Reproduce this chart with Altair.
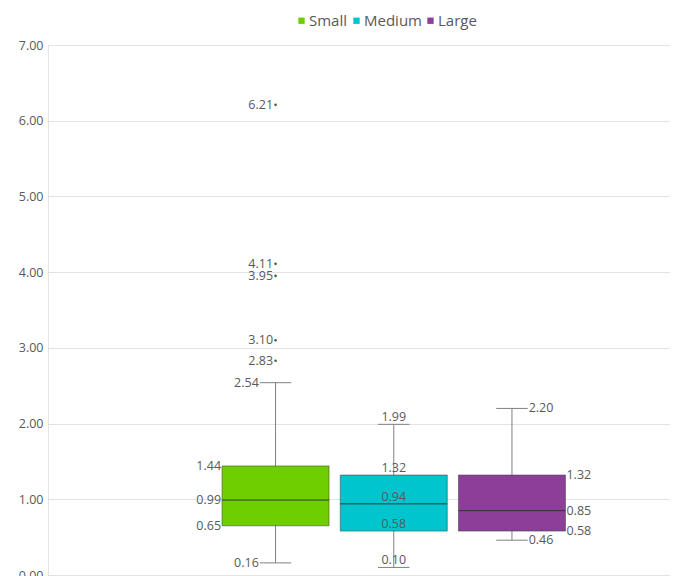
import altair as alt
import pandas as pd

# ---- data ----
series = ["Small", "Medium", "Large"]
colors = ["#6dcf00", "#00c5cf", "#8b3f98"]
whisker_low = [0.16, 0.10, 0.46]
q1 = [0.65, 0.58, 0.58]
median = [0.99, 0.94, 0.85]
q3 = [1.44, 1.32, 1.32]
whisker_high = [2.54, 1.99, 2.20]
outliers_small = [2.83, 3.10, 3.95, 4.11, 6.21]
y_ticks = [0, 1, 2, 3, 4, 5, 6, 7]

FONT = "Open Sans"
TXT = "#595959"
FS = 12.5
BOX_HALF = 0.4526
CAP_HALF = 0.133
positions = [1, 2, 3]

box_df = pd.DataFrame({
    "series": series, "pos": positions, "lo": whisker_low, "q1": q1,
    "med": median, "q3": q3, "hi": whisker_high,
})
box_df["bx0"] = box_df["pos"] - BOX_HALF
box_df["bx1"] = box_df["pos"] + BOX_HALF
box_df["cx0"] = box_df["pos"] - CAP_HALF
box_df["cx1"] = box_df["pos"] + CAP_HALF

out_df = pd.DataFrame({"series": "Small", "pos": positions[0], "v": outliers_small})

# label tables
rows = []
for i, s in enumerate(series):
    p = positions[i]
    for kind, v in [("cap", whisker_low[i]), ("box", q1[i]), ("box", median[i]),
                    ("box", q3[i]), ("cap", whisker_high[i])]:
        if s == "Small":
            ax = p - (BOX_HALF if kind == "box" else CAP_HALF)
        elif s == "Large":
            ax = p + (BOX_HALF if kind == "box" else CAP_HALF)
        else:
            ax = p
        rows.append({"series": s, "ax": ax, "v": v, "t": f"{v:.2f}", "kind": kind})
for v in outliers_small:
    rows.append({"series": "Small", "ax": positions[0], "v": v, "t": f"{v:.2f}", "kind": "out"})
lab_df = pd.DataFrame(rows)

xs = alt.Scale(domain=[-0.925, 4.337], nice=False, zero=False)
ys = alt.Scale(domain=[0, 7], nice=False)
yax = alt.Axis(values=y_ticks, format=".2f", grid=True, gridColor="#e3e3e3",
               domainColor="#e3e3e3", ticks=False, labelPadding=5,
               labelFontSize=FS, labelColor=TXT, labelFont=FONT, title=None)

base = alt.Chart(box_df)

whisk = base.mark_rule(color="#808080", strokeWidth=1).encode(
    x=alt.X("pos:Q", scale=xs, axis=None),
    y=alt.Y("lo:Q", scale=ys, axis=yax),
    y2="hi:Q",
)
cap_lo = base.mark_rule(color="#808080", strokeWidth=1).encode(
    x=alt.X("cx0:Q", scale=xs, axis=None), x2="cx1:Q",
    y=alt.Y("lo:Q", scale=ys),
)
cap_hi = base.mark_rule(color="#808080", strokeWidth=1).encode(
    x=alt.X("cx0:Q", scale=xs, axis=None), x2="cx1:Q",
    y=alt.Y("hi:Q", scale=ys),
)
boxes = base.mark_rect(stroke="#404040", strokeOpacity=0.55, strokeWidth=1).encode(
    x=alt.X("bx0:Q", scale=xs, axis=None), x2="bx1:Q",
    y=alt.Y("q1:Q", scale=ys), y2="q3:Q",
    color=alt.Color("series:N",
                    scale=alt.Scale(domain=series, range=colors),
                    legend=alt.Legend(orient="none", legendX=246, legendY=-32,
                                      direction="horizontal", symbolType="square",
                                      symbolSize=40, symbolStrokeWidth=0,
                                      labelFontSize=15, labelFont=FONT,
                                      labelColor=TXT, columnPadding=1,
                                      labelOffset=0, title=None)),
)
meds = base.mark_rule(color="#333333", strokeWidth=1).encode(
    x=alt.X("bx0:Q", scale=xs, axis=None), x2="bx1:Q",
    y=alt.Y("med:Q", scale=ys),
)
outs = alt.Chart(out_df).mark_circle(size=7, color="#3f6b2a", opacity=1).encode(
    x=alt.X("pos:Q", scale=xs, axis=None),
    y=alt.Y("v:Q", scale=ys),
)

lab = alt.Chart(lab_df)
tcommon = dict(font=FONT, fontSize=FS, color=TXT)
lab_small = lab.transform_filter("datum.series == 'Small' && datum.kind != 'out'").mark_text(
    align="right", baseline="middle", dx=-1, **tcommon).encode(
    x=alt.X("ax:Q", scale=xs, axis=None), y=alt.Y("v:Q", scale=ys), text="t:N")
lab_out = lab.transform_filter("datum.kind == 'out'").mark_text(
    align="right", baseline="middle", dx=-2.5, **tcommon).encode(
    x=alt.X("ax:Q", scale=xs, axis=None), y=alt.Y("v:Q", scale=ys), text="t:N")
lab_med = lab.transform_filter("datum.series == 'Medium'").mark_text(
    align="center", baseline="alphabetic", dy=-3, **tcommon).encode(
    x=alt.X("ax:Q", scale=xs, axis=None), y=alt.Y("v:Q", scale=ys), text="t:N")
lab_large = lab.transform_filter("datum.series == 'Large'").mark_text(
    align="left", baseline="middle", dx=1, **tcommon).encode(
    x=alt.X("ax:Q", scale=xs, axis=None), y=alt.Y("v:Q", scale=ys), text="t:N")

chart = alt.layer(
    whisk, cap_lo, cap_hi, boxes, meds, outs, lab_small, lab_out, lab_med, lab_large
).properties(
    width=622, height=530,
    autosize=alt.AutoSizeParams(type="none"),
    padding={"left": 40, "top": 37, "right": 0, "bottom": 20},
).configure_view(stroke=None).configure(background="white")

chart.save("out.html", embed_options={"renderer": "svg", "actions": False})
